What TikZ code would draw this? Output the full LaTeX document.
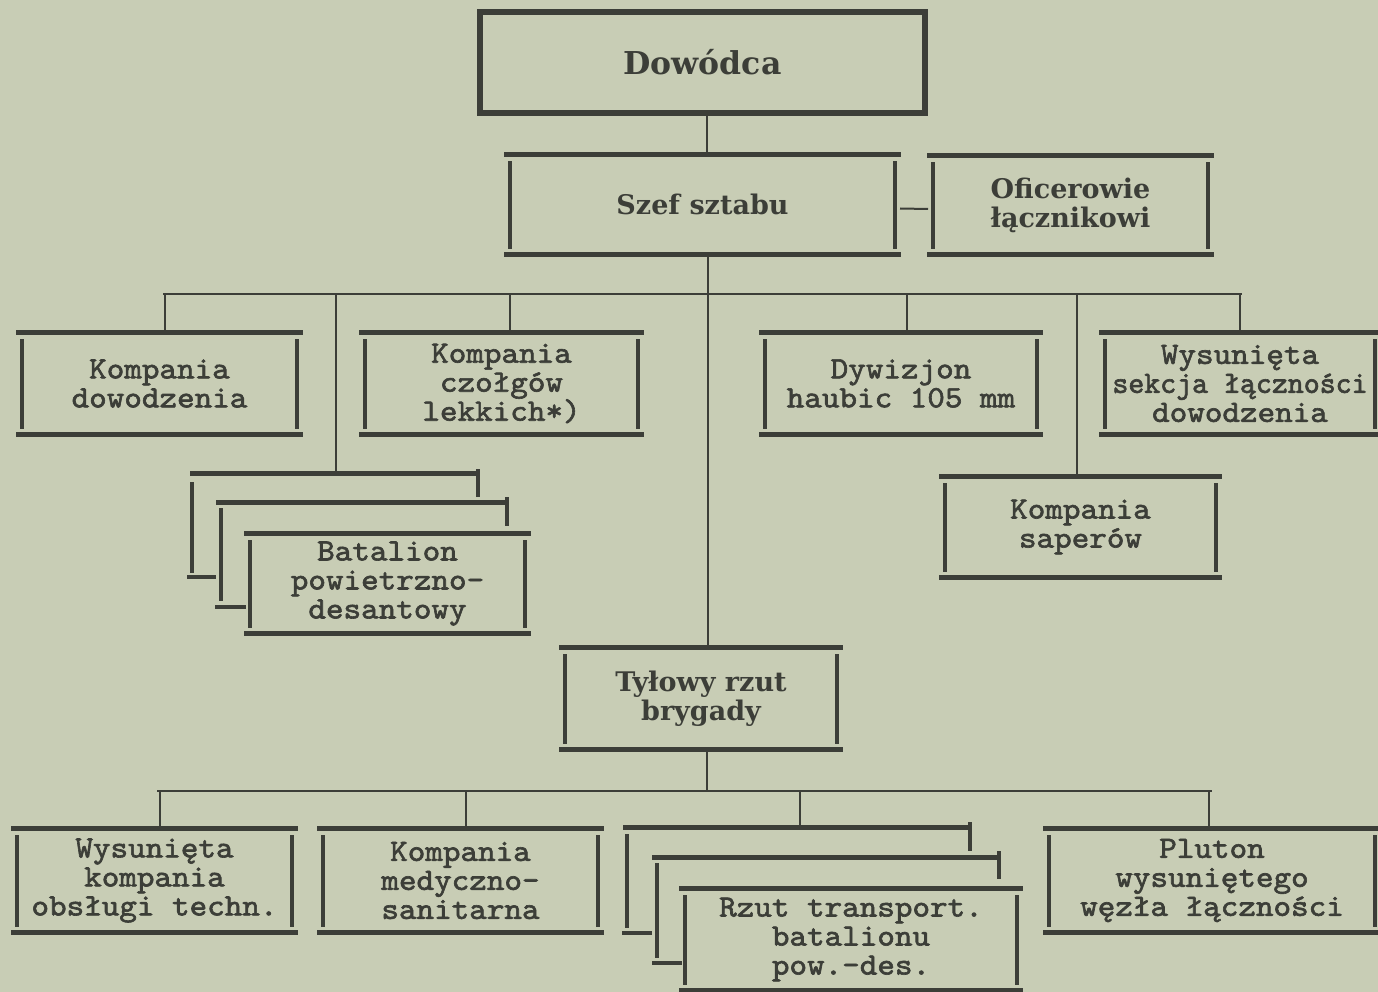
\documentclass[tikz,border=0pt]{standalone}
\usepackage{fontspec}
\newfontfamily\twr{lmmono10-regular}[Extension=.otf,FakeBold=2,FakeStretch=1.08]
\newfontfamily\twn{lmmono10-regular}[Extension=.otf,FakeBold=2,FakeStretch=0.98]
\newfontfamily\hdf{DejaVu Serif}
\definecolor{bg}{RGB}{200,205,181}
\definecolor{ink}{RGB}{60,62,56}
\newcommand\frameit[1]{%
  \fill[ink] ([xshift=-1pt]#1.north west) rectangle ([xshift=1pt,yshift=-5pt]#1.north east);
  \fill[ink] ([xshift=-1pt,yshift=5pt]#1.south west) rectangle ([xshift=1pt]#1.south east);
  \fill[ink] ([xshift=3pt,yshift=-9pt]#1.north west) rectangle ([xshift=7pt,yshift=8pt]#1.south west);
  \fill[ink] ([xshift=-7pt,yshift=-9pt]#1.north east) rectangle ([xshift=-3pt,yshift=8pt]#1.south east);
}
\tikzset{
  box/.style={inner sep=0pt, outer sep=0pt, align=center, text=ink,
    font=\twr\fontsize{31}{29}\selectfont},
  hd/.style={box, font=\hdf\bfseries\fontsize{27}{29}\selectfont},
  cn/.style={draw=ink, line width=2pt},
  bus/.style={draw=ink, line width=2.6pt},
  piece/.style={fill=ink},
}
\begin{document}
\begin{tikzpicture}[x=1pt,y=-1pt]
\fill[bg] (0,0) rectangle (1378,992);
\useasboundingbox (0,0) rectangle (1378,992);

% top level
\node[hd, minimum width=451pt, minimum height=107pt, font=\hdf\bfseries\fontsize{31.5}{30}\selectfont] (dow) at (702.5,62.5) {Dowódca};
\draw[ink, line width=6pt] ([shift={(3pt,-3pt)}]dow.north west) rectangle ([shift={(-3pt,3pt)}]dow.south east);

\node[hd, minimum width=395pt, minimum height=105pt] (szef) at (702.5,204.5) {Szef sztabu};
\frameit{szef}
\node[hd, minimum width=285pt, minimum height=104pt] (ofic) at (1070.5,205) {Oficerowie\\łącznikowi};
\frameit{ofic}

% second level
\node[box, minimum width=285pt, minimum height=107pt] (kd) at (159.5,383.5) {Kompania\\dowodzenia};
\frameit{kd}
\node[box, minimum width=283pt, minimum height=107pt] (kc) at (501.5,383.5) {Kompania\\czołgów\\lekkich*)};
\frameit{kc}
\node[box, minimum width=282pt, minimum height=107pt] (dyw) at (901,383.5) {Dywizjon\\haubic 105 mm};
\frameit{dyw}
\node[box, minimum width=280pt, minimum height=107pt] (ws) at (1240,383.5) {Wysunięta\\{\twn sekcja łączności}\\dowodzenia};
\frameit{ws}

% batalion stack
\fill[piece] (190,471) rectangle (476,476);
\fill[piece] (476,469) rectangle (480,497);
\fill[piece] (190,482) rectangle (194,573);
\fill[piece] (187,575) rectangle (216,579);
\fill[piece] (216,500) rectangle (505,505);
\fill[piece] (505,497) rectangle (509,526);
\fill[piece] (219,508) rectangle (223,601);
\fill[piece] (215,605) rectangle (246,609);
\coordinate (batback) at (336,471);
\node[box, minimum width=285pt, minimum height=105pt] (bat) at (387.5,583.5) {Batalion\\powietrzno-\\desantowy};
\frameit{bat}

\node[box, minimum width=281pt, minimum height=106pt] (sap) at (1080.5,527) {Kompania\\saperów};
\frameit{sap}

% rear echelon
\node[hd, minimum width=282pt, minimum height=107pt] (tyl) at (701,698.5) {Tyłowy rzut\\brygady};
\frameit{tyl}

\node[box, minimum width=285pt, minimum height=109pt] (wk) at (154.5,880.5) {Wysunięta\\kompania\\obsługi techn.};
\frameit{wk}
\node[box, minimum width=285pt, minimum height=109pt] (kms) at (460.5,880.5) {Kompania\\medyczno-\\sanitarna};
\frameit{kms}

% rzut stack
\fill[piece] (623,825) rectangle (968,830);
\fill[piece] (968,822) rectangle (972,851);
\fill[piece] (625,834) rectangle (629,928);
\fill[piece] (622,931) rectangle (652,935);
\fill[piece] (652,855) rectangle (997,860);
\fill[piece] (997,851) rectangle (1001,879);
\fill[piece] (655,863) rectangle (659,958);
\fill[piece] (652,961) rectangle (682,965);
\coordinate (rzback) at (800,825);
\node[box, minimum width=342pt, minimum height=107pt] (rz) at (851,939.5) {Rzut transport.\\batalionu\\pow.-des.};
\frameit{rz}

\node[box, minimum width=336pt, minimum height=109pt] (pl) at (1212,880.5) {Pluton\\wysuniętego\\węzła łączności};
\frameit{pl}

% connectors
\coordinate (b1L) at (163,294);
\coordinate (b1R) at (1242,294);
\coordinate (b2L) at (157,791);
\coordinate (b2R) at (1212,791);
\draw[bus] (b1L) -- (b1R);
\draw[bus] (b2L) -- (b2R);

\draw[cn] ([xshift=4.5pt]dow.south) -- ([xshift=4.5pt]szef.north);
\draw[cn] ([yshift=-4pt]szef.east) -- ([yshift=-4pt]ofic.west);
\draw[cn] ([xshift=5.5pt]szef.south) -- ([xshift=5.5pt]szef.south |- b1L);

\draw[cn] ([xshift=5.5pt]kd.north |- b1L) -- ([xshift=5.5pt]kd.north);
\draw[cn] ([xshift=8.5pt]kc.north |- b1L) -- ([xshift=8.5pt]kc.north);
\draw[cn] ([xshift=6pt]dyw.north |- b1L) -- ([xshift=6pt]dyw.north);
\draw[cn] (ws.north |- b1L) -- (ws.north);
\draw[cn] (batback |- b1L) -- (batback);
\draw[cn] ([xshift=-3.5pt]sap.north |- b1L) -- ([xshift=-3.5pt]sap.north);
\draw[cn, line width=2.4pt] ([xshift=7pt]tyl.north |- b1L) -- ([xshift=7pt]tyl.north);

\draw[cn] ([xshift=6pt]tyl.south) -- ([xshift=6pt]tyl.south |- b2L);
\draw[cn] ([xshift=5.5pt]wk.north |- b2L) -- ([xshift=5.5pt]wk.north);
\draw[cn] ([xshift=5.5pt]kms.north |- b2L) -- ([xshift=5.5pt]kms.north);
\draw[cn] (rzback |- b2L) -- (rzback);
\draw[cn] ([xshift=-3pt]pl.north |- b2L) -- ([xshift=-3pt]pl.north);
\end{tikzpicture}
\end{document}
